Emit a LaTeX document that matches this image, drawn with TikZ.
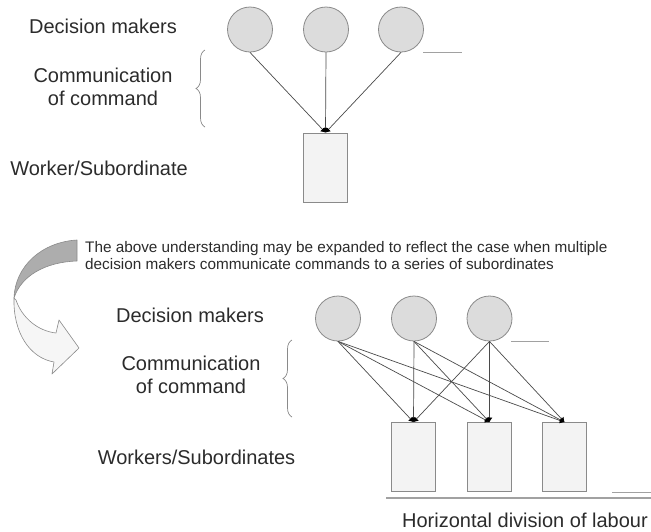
\documentclass[tikz,border=0pt]{standalone}
\usepackage{fontspec}
\setmainfont{Liberation Sans}
\usetikzlibrary{arrows.meta,decorations.pathreplacing}

\definecolor{linegray}{HTML}{4A4A4A}
\definecolor{boxgray}{HTML}{8A8A8A}
\definecolor{circlefill}{HTML}{DCDCDC}
\definecolor{rectfill}{HTML}{F3F3F3}
\definecolor{textgray}{HTML}{2B2B2B}
\definecolor{ribbondark}{HTML}{ADADAD}
\definecolor{ribbonlight}{HTML}{F6F6F6}

\begin{document}
\begin{tikzpicture}[x=1pt,y=-1pt]
\tikzset{
  dmnode/.style={circle,draw=boxgray,fill=circlefill,line width=0.8pt,minimum size=45pt,inner sep=0pt},
  worknode/.style={rectangle,draw=boxgray,fill=rectfill,line width=0.8pt,minimum width=44pt,minimum height=69pt,inner sep=0pt},
  sidetext/.style={font=\fontsize{20}{23}\selectfont,text=textgray,align=center,inner sep=0pt},
  notetext/.style={font=\fontsize{15.3}{17}\selectfont,text=textgray,align=left,inner sep=0pt},
  command/.style={draw=linegray,line width=0.7pt,line cap=round,-{Latex[black,length=4.5pt,width=6pt]}},
  cmdbrace/.style={draw=boxgray,line width=0.7pt,decorate,decoration={brace,amplitude=9pt}},
  greyrule/.style={draw=boxgray!80,line width=1pt},
  ribbon/.style={draw=boxgray,line width=0.6pt,line join=round}
}
\useasboundingbox (0,0) rectangle (651,531);
% single decision chain
\node[sidetext] (t_dm) at (103,26) {Decision makers};
\node[sidetext] (t_cc) at (103,86.5) {Communication\\of command};
\node[sidetext] (t_ws) at (99,168) {Worker/Subordinate};
\node[dmnode] (n_D1) at (250,29.5) {};
\node[dmnode] (n_D2) at (326,29.5) {};
\node[dmnode] (n_D3) at (401,29.5) {};
\node[worknode] (n_W) at (325.5,167.5) {};
\draw[command] (n_D1.south) -- (n_W.north);
\draw[command] (n_D2.south) -- (n_W.north);
\draw[command] (n_D3.south) -- (n_W.north);
\draw[cmdbrace] (205,127) -- (205,50);
\draw[greyrule] (423,52) -- (462,52);
% twisted ribbon arrow
\path[ribbon,fill=ribbondark] (77,240) .. controls (42,242) and (15,266) .. (14,298)
  .. controls (21,276) and (45,262) .. (77,261) -- cycle;
\path[ribbon,fill=ribbonlight] (14,298) .. controls (13,333) and (30,358) .. (54,362)
  -- (52,374) -- (79,348) -- (59,320) -- (56,333)
  .. controls (38,331) and (22,318) .. (16,300) -- cycle;
\node[notetext,anchor=west] (t_note) at (85,255.5) {The above understanding may be expanded to reflect the case when multiple\\decision makers communicate commands to a series of subordinates};
% multiple decision makers
\node[sidetext] (t_dm2) at (190,315) {Decision makers};
\node[sidetext] (t_cc2) at (191,374.5) {Communication\\of command};
\node[sidetext] (t_ws2) at (196.5,457) {Workers/Subordinates};
\node[dmnode] (n_E1) at (338,318.5) {};
\node[dmnode] (n_E2) at (414,318.5) {};
\node[dmnode] (n_E3) at (489.5,318.5) {};
\node[worknode] (n_V1) at (413.5,457) {};
\node[worknode] (n_V2) at (489.5,457) {};
\node[worknode] (n_V3) at (564.5,457) {};
\foreach \d in {E1,E2,E3}{
  \foreach \w in {V1,V2,V3}{
    \draw[command] (n_\d.south) -- (n_\w.north);
  }
}
\draw[cmdbrace] (292,417) -- (292,340);
\draw[greyrule] (511,341) -- (549,341);
\draw[greyrule] (612,492) -- (651,492);
\draw[greyrule,line width=1.3pt] (386,498) -- (651,498);
\node[sidetext,anchor=east] (t_hd) at (648,520) {Horizontal division of labour};
\end{tikzpicture}
\end{document}
